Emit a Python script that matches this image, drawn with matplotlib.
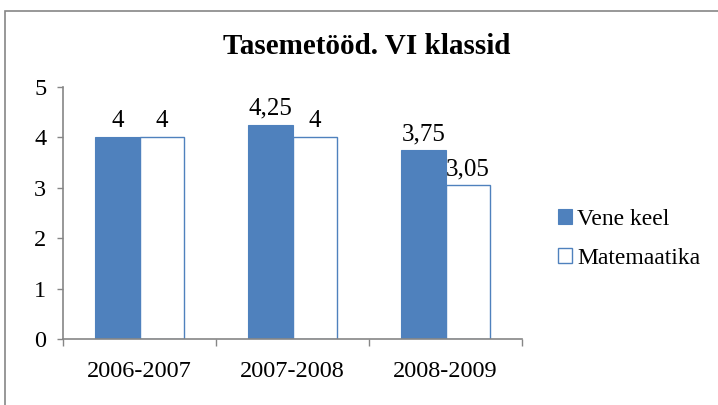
import matplotlib.pyplot as plt
import numpy as np
from matplotlib.patches import Rectangle

categories = ['2006-2007', '2007-2008', '2008-2009']
vene_keel = [4, 4.25, 3.75]
matemaatika = [4, 4, 3.05]
series_names = ['Vene keel', 'Matemaatika']

blue = '#4F81BD'
grey = '#868686'
plt.rcParams['font.family'] = ['Liberation Serif', 'DejaVu Serif']

fig = plt.figure(figsize=(7.18, 4.05), dpi=100)
ax = fig.add_axes([63 / 718, 1 - 339 / 405, 459 / 718, 252 / 405])

# outer chart frame (cut off at right and bottom)
fig.patches.append(Rectangle((5 / 718, -0.1), 1.2, 1 - 11 / 405 + 0.1,
                             transform=fig.transFigure, fill=False,
                             edgecolor=grey, linewidth=1.2))

x = np.arange(len(categories))
w = 0.29
b1 = ax.bar(x - w / 2, vene_keel, w, color=blue, edgecolor=blue, linewidth=0.8,
            label=series_names[0])
b2 = ax.bar(x + w / 2, matemaatika, w, color='white', edgecolor=blue, linewidth=1.0,
            label=series_names[1])

def fmt(v):
    return ('%g' % v).replace('.', ',')

for bars, vals in ((b1, vene_keel), (b2, matemaatika)):
    for rect, v in zip(bars, vals):
        ax.text(rect.get_x() + rect.get_width() / 2, v + 0.1, fmt(v),
                ha='center', va='bottom', fontsize=18)

ax.set_xlim(-0.5, len(categories) - 0.5)
ax.set_ylim(0, 5)
ax.set_yticks(range(6))
ax.set_xticks(x)
ax.set_xticklabels(categories)
ax.set_xticks(np.arange(len(categories) + 1) - 0.5, minor=True)
ax.tick_params(axis='x', which='major', length=0, pad=16, labelsize=17.5)
ax.tick_params(axis='x', which='minor', length=5, color=grey, width=1)
ax.tick_params(axis='y', length=4, color=grey, width=1, labelsize=17.5, pad=8)
for s in ('top', 'right'):
    ax.spines[s].set_visible(False)
for s in ('left', 'bottom'):
    ax.spines[s].set_color(grey)
    ax.spines[s].set_linewidth(1.2)

fig.text(367 / 718, 1 - 47 / 405, 'Tasemetööd. VI klassid', ha='center', va='center',
         fontsize=21, fontweight='bold')

ax.legend(loc='center left', bbox_to_anchor=(537 / 718, 1 - 239 / 405),
          bbox_transform=fig.transFigure, frameon=False, fontsize=17,
          handlelength=0.6, handleheight=0.6, handletextpad=0.2, labelspacing=0.75)

fig.savefig('out.png', dpi=100)
